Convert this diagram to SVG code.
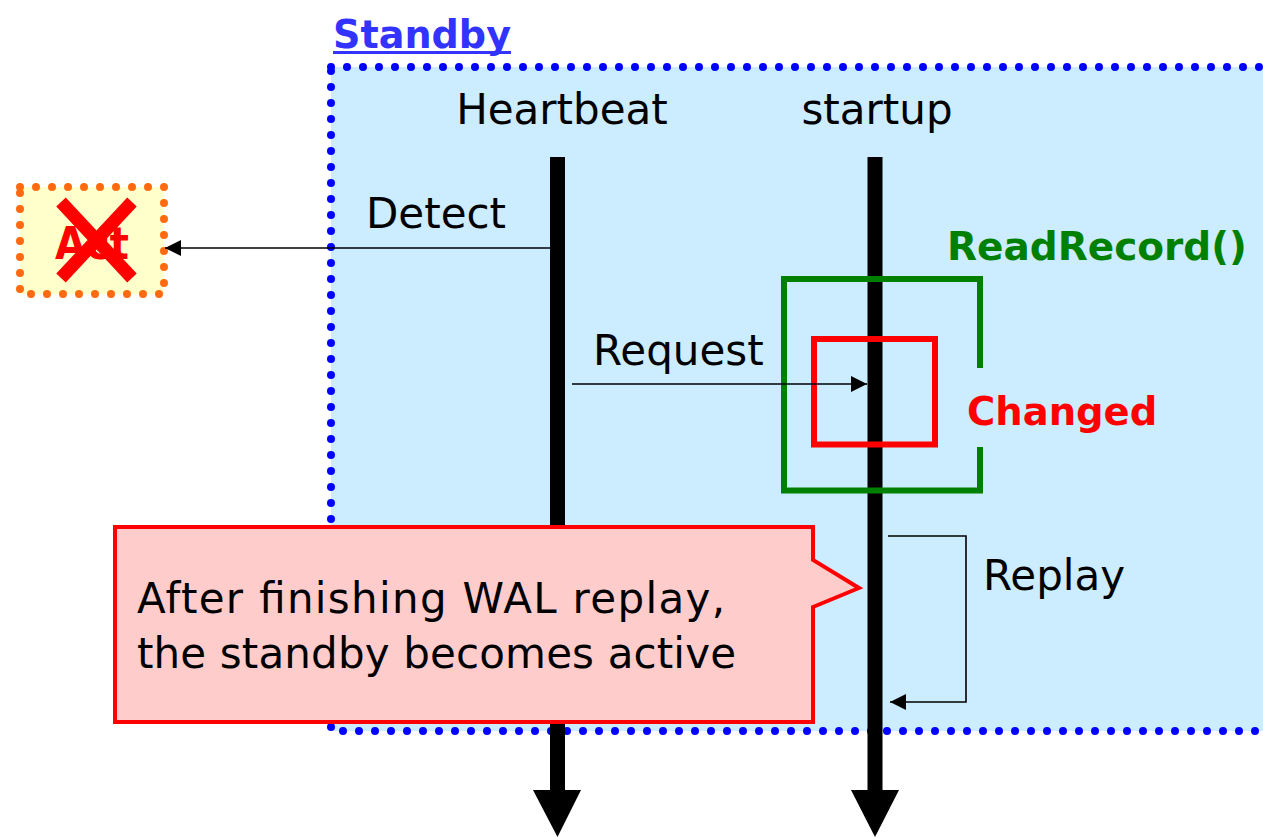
<svg xmlns="http://www.w3.org/2000/svg" width="1263" height="837" viewBox="0 0 1263 837">
<style>
text{font-family:"DejaVu Sans","Liberation Sans",sans-serif}
.lbl{font-size:42px;fill:#000}
.bold{font-weight:bold}
.life{fill:none;stroke:#000;stroke-width:15}
.thin{fill:none;stroke:#000;stroke-width:1.6}
</style>
<defs>
<marker id="ah" markerUnits="userSpaceOnUse" markerWidth="18" markerHeight="18" refX="16" refY="8" orient="auto">
<path d="M0,0 L16,8 L0,16 Z" fill="#000"/>
</marker>
</defs>
<g id="standby">
<rect x="331" y="67" width="970" height="664" fill="#CCECFF" stroke="#0000FF" stroke-width="8" stroke-dasharray="0 16" stroke-linecap="round"/>
<text x="333" y="48" class="bold" font-size="39" fill="#3333FF" textLength="178" lengthAdjust="spacingAndGlyphs">Standby</text>
<rect x="333" y="51" width="178" height="3" fill="#3333FF"/>
</g>
<g id="act">
<rect x="20" y="187" width="144" height="107" fill="#FFFFCC" stroke="#FF6A10" stroke-width="8" stroke-dasharray="0 16" stroke-linecap="round"/>
<text x="92" y="259" text-anchor="middle" class="bold" font-size="44" fill="#FF0000" textLength="74" lengthAdjust="spacingAndGlyphs">Act</text>
<path d="M61,202 L132,278 M132,202 L61,278" stroke="#FF0000" stroke-width="13" fill="none"/>
</g>
<g id="heartbeat">
<text x="562" y="124" text-anchor="middle" class="lbl">Heartbeat</text>
<line x1="557.5" y1="157" x2="557.5" y2="792" class="life"/>
<path d="M533,790 L581,790 L557.5,837 Z" fill="#000"/>
</g>
<g id="startup">
<text x="877" y="124" text-anchor="middle" class="lbl">startup</text>
<line x1="875" y1="157" x2="875" y2="792" class="life"/>
<path d="M851,790 L899,790 L875,837 Z" fill="#000"/>
</g>
<g id="readrecord">
<path d="M980,368 L980,279 L784,279 L784,490.5 L980,490.5 L980,447" fill="none" stroke="#008000" stroke-width="6"/>
<text x="947" y="260" class="bold" font-size="39" fill="#008000">ReadRecord()</text>
</g>
<g id="changed">
<rect x="814" y="339" width="121" height="105.5" fill="none" stroke="#FF0000" stroke-width="6"/>
<text x="967" y="425" class="bold" font-size="38.5" fill="#FF0000">Changed</text>
</g>
<g id="connectors">
<line x1="550" y1="248" x2="165" y2="248" class="thin" marker-end="url(#ah)"/>
<line x1="572" y1="384" x2="867" y2="384" class="thin" marker-end="url(#ah)"/>
<polyline points="888,536 966,536 966,702 890,702" class="thin" marker-end="url(#ah)"/>
<text x="366" y="228" class="lbl">Detect</text>
<text x="593" y="365" class="lbl" font-size="41">Request</text>
<text x="983" y="590" class="lbl" font-size="41.5">Replay</text>
</g>
<g id="callout">
<path d="M115,527 L813,527 L813,560 L859,588 L813,607 L813,722 L115,722 Z" fill="#FFCCCC" stroke="#FF0000" stroke-width="4"/>
<text x="137" y="613" class="lbl" font-size="41" textLength="588" lengthAdjust="spacing">After finishing WAL replay,</text>
<text x="137" y="668" class="lbl" font-size="41" textLength="599" lengthAdjust="spacing">the standby becomes active</text>
</g>
</svg>
